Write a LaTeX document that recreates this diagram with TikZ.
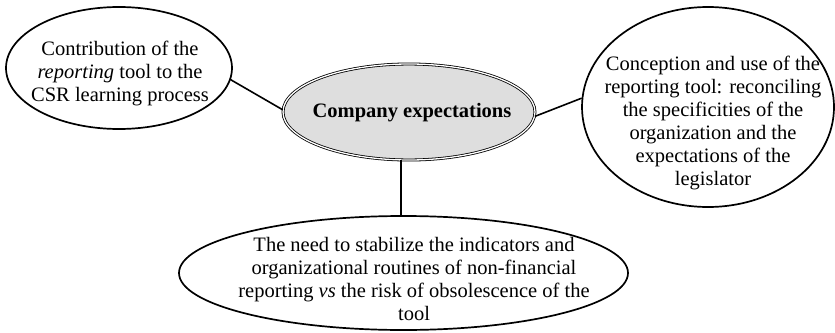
\documentclass[tikz,border=0pt]{standalone}
\usepackage{fontspec}
\setmainfont{Liberation Serif}
\usetikzlibrary{shapes.geometric}
\definecolor{hubfill}{RGB}{222,222,222}
\tikzset{
  bubble/.style={ellipse, draw=black, line width=1.7pt, inner sep=0pt},
  hub/.style={ellipse, draw=black, fill=hubfill, double=white, double distance=1.3pt,
    line width=0.8pt, inner sep=0pt},
  bubbletext/.style={align=center, inner sep=0pt,
    font=\fontsize{20.5}{23}\selectfont},
  link/.style={draw=black, line width=1.6pt}
}
\begin{document}
\begin{tikzpicture}[x=1pt, y=-1pt]
  \useasboundingbox (0,0) rectangle (835,332);

  % outlines
  \node[bubble, minimum width=226pt, minimum height=122pt] (learn) at (119,68) {};
  \node[hub, minimum width=252pt, minimum height=96pt] (hub) at (409,112) {};
  \node[bubble, minimum width=252pt, minimum height=200pt] (design) at (708,107) {};
  \node[bubble, minimum width=449pt, minimum height=114pt] (stable) at (403.5,273) {};

  % texts
  \node[bubbletext] (learnT) at (120,73)
    {Contribution of the\\ \textit{reporting} tool to the\\ CSR learning process};
  \node[bubbletext, font=\fontsize{20.5}{23}\selectfont\bfseries] (hubT) at (412,113)
    {Company expectations};
  \node[bubbletext] (designT) at (713,122.5)
    {Conception and use of the\\ reporting tool: reconciling\\ the specificities of the\\
     organization and the\\ expectations of the\\ legislator};
  \node[bubbletext] (stableT) at (414,279)
    {The need to stabilize the indicators and\\ organizational routines of non-financial\\
     reporting \textit{vs} the risk of obsolescence of the\\ tool};

  % connectors
  \coordinate (drop) at (401,0);
  \draw[link] (learn.-6.5) -- (hub.179);
  \draw[link] (hub.-2.7) -- (design.176);
  \draw[link] (hub.south -| drop) -- (stable.north -| drop);
\end{tikzpicture}
\end{document}
